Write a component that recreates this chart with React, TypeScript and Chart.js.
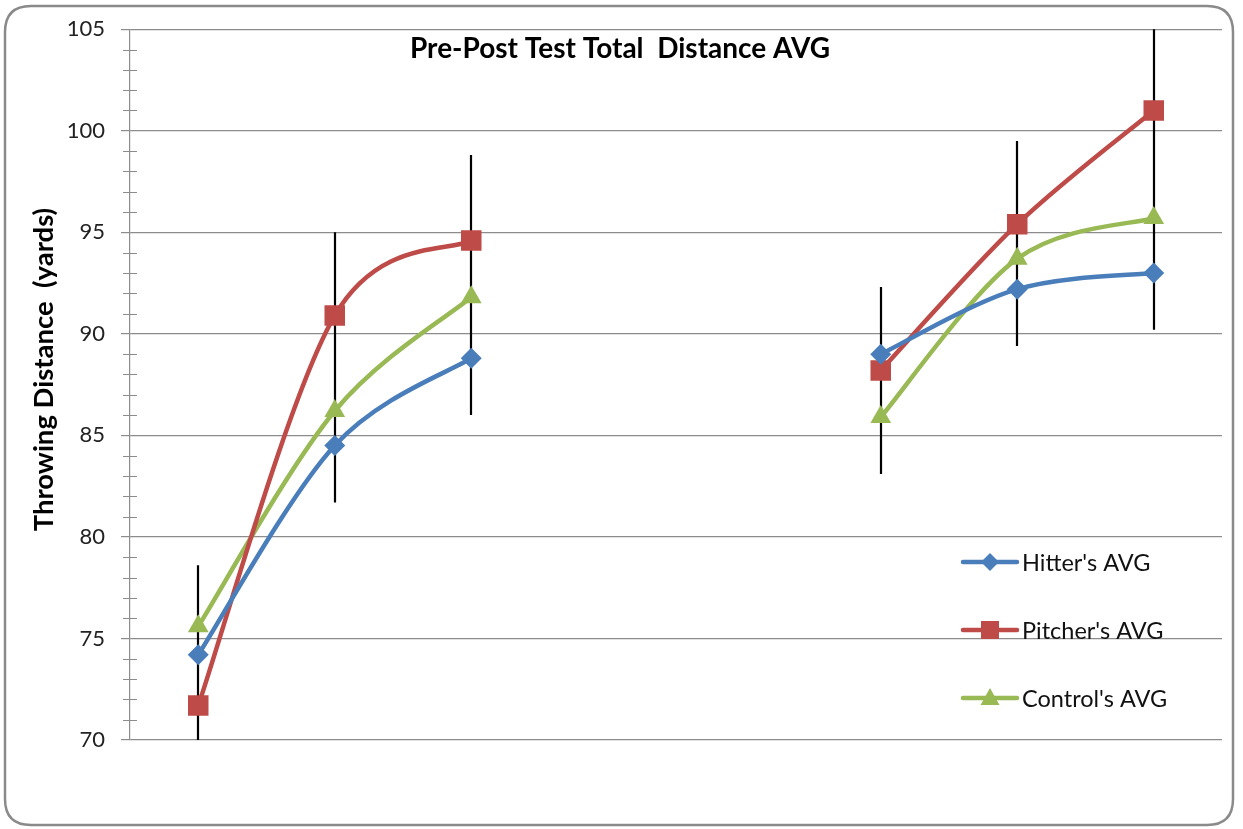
import React, { useEffect, useRef } from "react";
import { Chart, registerables } from "chart.js";

Chart.register(...registerables);

const categories = ["Pre 1", "Pre 2", "Pre 3", "", " ", "Post 1", "Post 2", "Post 3"];
const hitterAvg = [74.2, 84.5, 88.8, null, null, 89.0, 92.2, 93.0];
const pitcherAvg = [71.7, 90.9, 94.6, null, null, 88.2, 95.4, 101.0];
const controlAvg = [75.6, 86.2, 91.8, null, null, 85.9, 93.7, 95.7];
const errLow = [69.0, 81.7, 86.0, null, null, 83.1, 89.4, 90.2];
const errHigh = [78.6, 95.0, 98.8, null, null, 92.3, 99.5, 106.0];
const yMin = 70;
const yMax = 105;
const titleText = "Pre-Post Test Total  Distance AVG";
const yTitle = "Throwing Distance  (yards)";
const seriesNames = ["Hitter's AVG", "Pitcher's AVG", "Control's AVG"];

const BLUE = "#4a7ebb";
const RED = "#be4b48";
const GREEN = "#98b954";
const GRID = "#8c8c8c";
const FONT = "Lato, 'Open Sans', sans-serif";

function drawMarker(ctx: CanvasRenderingContext2D, style: string, x: number, y: number, color: string) {
  ctx.save();
  ctx.fillStyle = color;
  ctx.beginPath();
  if (style === "diamond") {
    const r = 9;
    ctx.moveTo(x, y - r);
    ctx.lineTo(x + r, y);
    ctx.lineTo(x, y + r);
    ctx.lineTo(x - r, y);
  } else if (style === "square") {
    const s = 9;
    ctx.rect(x - s, y - s, 2 * s, 2 * s);
  } else {
    const r = 10;
    ctx.moveTo(x, y - r);
    ctx.lineTo(x + r * 0.95, y + r * 0.7);
    ctx.lineTo(x - r * 0.95, y + r * 0.7);
  }
  ctx.closePath();
  ctx.fill();
  ctx.restore();
}

// Excel-like (Catmull-Rom) smoothing of each unbroken run of points
const smoothPlugin = {
  id: "excelSmooth",
  beforeDatasetDraw(chart: any, args: any) {
    const meta = chart.getDatasetMeta(args.index);
    const line = meta.dataset;
    if (!line || typeof line.updateControlPoints !== "function") return;
    line.updateControlPoints(chart.chartArea, "x");
    const pts = meta.data;
    const runs: any[][] = [];
    let run: any[] = [];
    pts.forEach((p: any) => {
      if (p.skip) {
        if (run.length) runs.push(run);
        run = [];
      } else run.push(p);
    });
    if (run.length) runs.push(run);
    runs.forEach((r) => {
      for (let i = 0; i < r.length; i++) {
        const prev = r[Math.max(i - 1, 0)];
        const next = r[Math.min(i + 1, r.length - 1)];
        const cur = r[i];
        const dx = (next.x - prev.x) / 6;
        const dy = (next.y - prev.y) / 6;
        cur.cp1x = cur.x - dx;
        cur.cp1y = cur.y - dy;
        cur.cp2x = cur.x + dx;
        cur.cp2y = cur.y + dy;
      }
    });
    line._path = undefined;
  },
};

const decorPlugin = {
  id: "decor",
  beforeDraw(chart: any) {
    const ctx = chart.ctx as CanvasRenderingContext2D;
    ctx.save();
    ctx.fillStyle = "#ffffff";
    ctx.fillRect(0, 0, chart.width, chart.height);
    const x = 5, y = 6, w = 1228, h = 819, r = 26;
    ctx.beginPath();
    ctx.moveTo(x + r, y);
    ctx.lineTo(x + w - r, y);
    ctx.quadraticCurveTo(x + w, y, x + w, y + r);
    ctx.lineTo(x + w, y + h - r);
    ctx.quadraticCurveTo(x + w, y + h, x + w - r, y + h);
    ctx.lineTo(x + r, y + h);
    ctx.quadraticCurveTo(x, y + h, x, y + h - r);
    ctx.lineTo(x, y + r);
    ctx.quadraticCurveTo(x, y, x + r, y);
    ctx.closePath();
    ctx.strokeStyle = "#8a8a8a";
    ctx.lineWidth = 2.5;
    ctx.stroke();
    ctx.restore();
  },
  beforeDatasetsDraw(chart: any) {
    const ctx = chart.ctx as CanvasRenderingContext2D;
    const xs = chart.scales.x;
    const ys = chart.scales.y;
    const area = chart.chartArea;
    ctx.save();
    ctx.strokeStyle = GRID;
    ctx.lineWidth = 1;
    for (let v = yMin + 1; v < yMax; v++) {
      if (v % 5 === 0) continue;
      const py = Math.round(ys.getPixelForValue(v)) + 0.5;
      ctx.beginPath();
      ctx.moveTo(area.left - 7, py);
      ctx.lineTo(area.left + 7, py);
      ctx.stroke();
    }
    ctx.restore();
    ctx.save();
    ctx.beginPath();
    ctx.rect(area.left, area.top, area.right - area.left, area.bottom - area.top);
    ctx.clip();
    ctx.strokeStyle = "#000000";
    ctx.lineWidth = 2.2;
    for (let i = 0; i < categories.length; i++) {
      const lo = errLow[i];
      const hi = errHigh[i];
      if (lo == null || hi == null) continue;
      const px = Math.round(xs.getPixelForValue(i));
      ctx.beginPath();
      ctx.moveTo(px, ys.getPixelForValue(lo));
      ctx.lineTo(px, ys.getPixelForValue(hi));
      ctx.stroke();
    }
    ctx.restore();
  },
  afterDraw(chart: any) {
    const ctx = chart.ctx as CanvasRenderingContext2D;
    const area = chart.chartArea;
    ctx.save();
    ctx.fillStyle = "#000000";
    ctx.font = `bold 28px ${FONT}`;
    ctx.textAlign = "center";
    ctx.textBaseline = "middle";
    ctx.fillText(titleText, 620, 49);
    ctx.save();
    ctx.translate(44, (area.top + area.bottom) / 2 - 15);
    ctx.rotate(-Math.PI / 2);
    ctx.font = `bold 27.5px ${FONT}`;
    ctx.fillText(yTitle, 0, 0);
    ctx.restore();
    const colors = [BLUE, RED, GREEN];
    const markers = ["diamond", "square", "triangle"];
    const rows = [562, 630, 698];
    const lx0 = area.right - 259;
    for (let i = 0; i < 3; i++) {
      const yy = rows[i];
      ctx.strokeStyle = colors[i];
      ctx.lineWidth = 4.5;
      ctx.lineCap = "round";
      ctx.beginPath();
      ctx.moveTo(lx0, yy);
      ctx.lineTo(lx0 + 54, yy);
      ctx.stroke();
      drawMarker(ctx, markers[i], lx0 + 27, yy, colors[i]);
      ctx.fillStyle = "#111111";
      ctx.font = `23.5px ${FONT}`;
      ctx.textAlign = "left";
      ctx.textBaseline = "middle";
      ctx.fillText(seriesNames[i], lx0 + 59, yy + 1);
    }
    ctx.restore();
  },
};

export default function App() {
  const ref = useRef<HTMLCanvasElement | null>(null);
  useEffect(() => {
    if (!ref.current) return;
    const common = {
      borderWidth: 4.5,
      pointBorderWidth: 0,
      tension: 0.4,
      spanGaps: false,
    };
    const chart = new Chart(ref.current, {
      type: "line",
      data: {
        labels: categories,
        datasets: [
          {
            ...common,
            label: seriesNames[0],
            data: hitterAvg,
            borderColor: BLUE,
            backgroundColor: BLUE,
            pointStyle: "rectRot",
            pointRadius: 10.5,
          },
          {
            ...common,
            label: seriesNames[1],
            data: pitcherAvg,
            borderColor: RED,
            backgroundColor: RED,
            pointStyle: "rect",
            pointRadius: 14.5,
          },
          {
            ...common,
            label: seriesNames[2],
            data: controlAvg,
            borderColor: GREEN,
            backgroundColor: GREEN,
            pointStyle: "triangle",
            pointRadius: 12,
          },
        ],
      },
      options: {
        responsive: false,
        animation: false,
        devicePixelRatio: 1,
        layout: { padding: { top: 29, bottom: 89, left: 0, right: 21 } },
        plugins: {
          legend: { display: false },
          title: { display: false },
          tooltip: { enabled: false },
        },
        scales: {
          x: {
            display: false,
            offset: true,
          },
          y: {
            min: yMin,
            max: yMax,
            afterFit: (scale: any) => {
              scale.width = 130;
            },
            ticks: {
              stepSize: 5,
              color: "#222222",
              padding: 16,
              font: { family: FONT, size: 22 },
            },
            grid: {
              color: GRID,
              lineWidth: 1.2,
              tickLength: 9,
              tickColor: GRID,
            },
            border: { display: true, color: GRID, width: 1.2 },
          },
        },
      },
      plugins: [smoothPlugin, decorPlugin],
    });
    return () => chart.destroy();
  }, []);
  return (
    <div style={{ position: "absolute", left: 0, top: 0, width: 1243, height: 829 }}>
      <canvas ref={ref} width={1243} height={829} />
    </div>
  );
}
